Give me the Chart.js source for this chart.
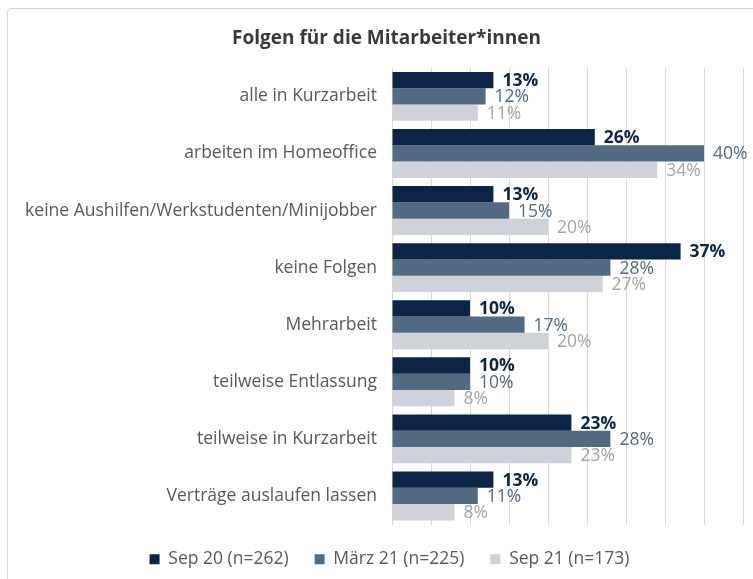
<!DOCTYPE html>
<html><head><meta charset="utf-8">
<script src="https://cdn.jsdelivr.net/npm/chart.js@4"></script>
<style>
html,body{margin:0;padding:0;background:#fff;}
#wrap{position:relative;width:753px;height:579px;overflow:hidden;}
#frame{position:absolute;left:7px;top:8px;width:800px;height:620px;border:1px solid #d9d9d9;border-radius:4px;box-sizing:border-box;}
canvas{position:absolute;left:0;top:0;}
</style></head>
<body><div id="wrap"><div id="frame"></div><canvas id="c" width="753" height="579"></canvas></div>
<script>
const categories = ["alle in Kurzarbeit","arbeiten im Homeoffice","keine Aushilfen/Werkstudenten/Minijobber","keine Folgen","Mehrarbeit","teilweise Entlassung","teilweise in Kurzarbeit","Verträge auslaufen lassen"];
const seriesNames = ["Sep 20 (n=262)","März 21 (n=225)","Sep 21 (n=173)"];
const sep20 = [13,26,13,37,10,10,23,13];
const maerz21 = [12,40,15,28,17,10,28,11];
const sep21 = [11,34,20,27,20,8,23,8];
const barColors = ["#0c2446","#536a83","#cfd2d8"];
const labelColors = ["#0c2446","#536a83","#a5a5a5"];
const labelWeights = ["bold","normal","normal"];
const FONT = "'Open Sans', sans-serif";

const valueLabels = {
  id:'valueLabels',
  afterDatasetsDraw(chart){
    const ctx = chart.ctx;
    chart.data.datasets.forEach((ds,i)=>{
      const meta = chart.getDatasetMeta(i);
      meta.data.forEach((bar,j)=>{
        ctx.save();
        ctx.font = labelWeights[i]+" 17.5px "+FONT;
        ctx.fillStyle = labelColors[i];
        ctx.textAlign='left';
        ctx.textBaseline='middle';
        ctx.fillText(ds.data[j]+"%", bar.x+9, bar.y+1);
        ctx.restore();
      });
    });
  }
};

const shiftBoxes = {
  id:'shiftBoxes',
  afterLayout(chart){
    if(chart.titleBlock){chart.titleBlock.left+=15;chart.titleBlock.right+=15;}
    if(chart.legend){chart.legend.left+=18;chart.legend.right+=18;}
  }
};

new Chart(document.getElementById('c'),{
  type:'bar',
  data:{
    labels:categories,
    datasets:[sep20,maerz21,sep21].map((d,i)=>({label:seriesNames[i],data:d,backgroundColor:barColors[i],borderWidth:0,categoryPercentage:0.857,barPercentage:1}))
  },
  options:{
    indexAxis:'y',
    responsive:false,
    animation:false,
    layout:{padding:{left:0,right:10,top:0,bottom:1}},
    scales:{
      x:{min:0,max:45,ticks:{display:false,stepSize:5},grid:{color:'#d9d9d9',drawTicks:false},border:{display:false}},
      y:{grid:{display:false,drawTicks:false},border:{display:false},
         ticks:{color:'#595959',font:{family:FONT,size:17.5},padding:15},
         afterFit(s){s.width=392;}}
    },
    plugins:{
      title:{display:true,text:'Folgen für die Mitarbeiter*innen',color:'#3a3a3a',font:{family:FONT,size:19,weight:'bold'},padding:{top:27,bottom:18}},
      legend:{position:'bottom',labels:{color:'#595959',font:{family:FONT,size:17.5},boxWidth:10,boxHeight:10,padding:26,useBorderRadius:false}},
      tooltip:{enabled:false}
    }
  },
  plugins:[valueLabels, shiftBoxes]
});
</script></body></html>
